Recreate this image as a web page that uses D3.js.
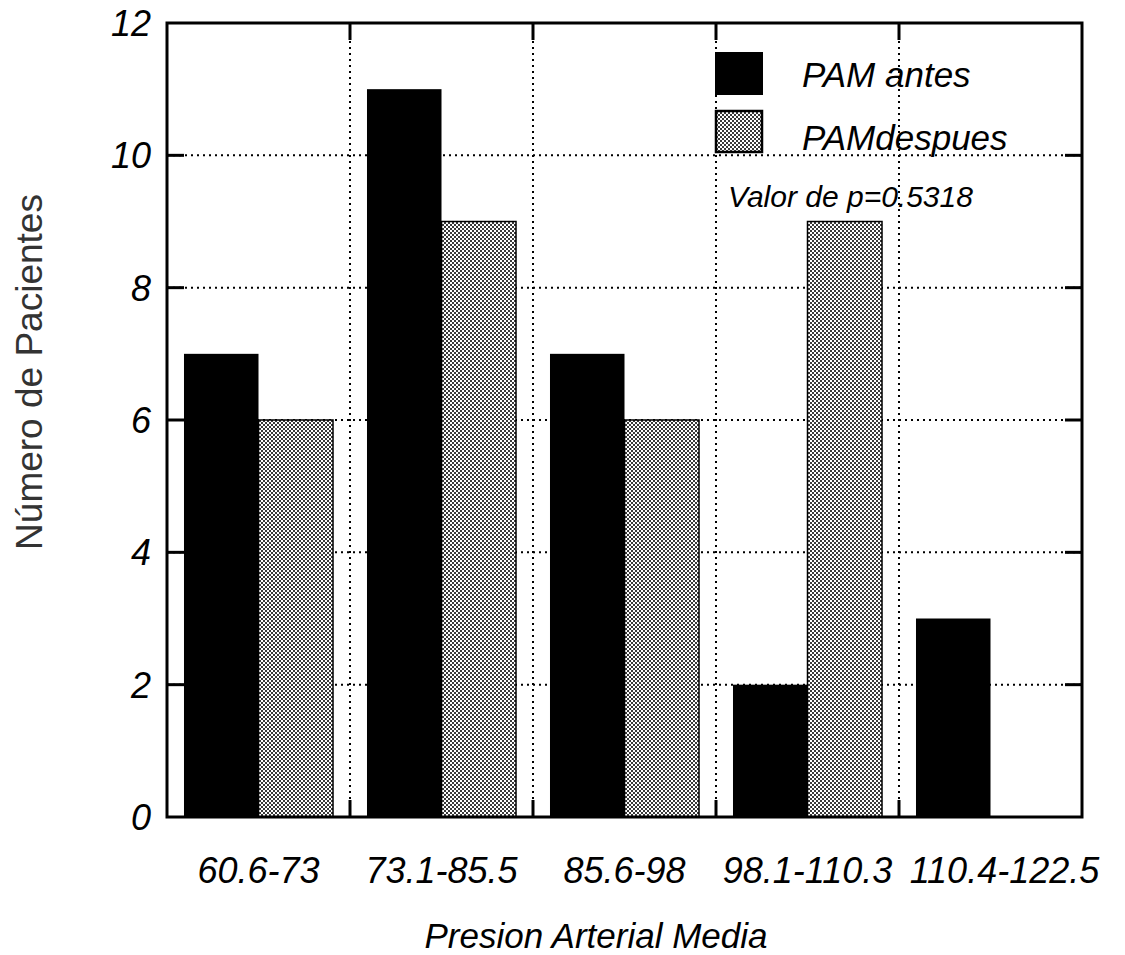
<!DOCTYPE html>
<html>
<head>
<meta charset="utf-8">
<script src="https://cdn.jsdelivr.net/npm/d3@7"></script>
<style>
  html, body { margin: 0; padding: 0; background: #fff; }
  svg { display: block; }
  text { font-family: "Liberation Sans", Arial, sans-serif; }
</style>
</head>
<body>
<svg id="chart" width="1125" height="955"></svg>
<script>
// Pressure ranges (mmHg) on the category axis
const categories = ["60.6-73", "73.1-85.5", "85.6-98", "98.1-110.3", "110.4-122.5"];
// Patients per range, before and after
const series = ["PAM antes", "PAMdespues"];
const pamAntes = [7, 11, 7, 2, 3];
const pamDespues = [6, 9, 6, 9, 0];
const yTicks = [0, 2, 4, 6, 8, 10, 12];
const pValueLabel = "Valor de p=0.5318";

const svg = d3.select("#chart");
const m = { left: 167, right: 1082, top: 23, bottom: 817 };

const x0 = d3.scaleBand().domain(categories).range([m.left, m.right]);
const x1 = d3.scaleBand().domain(series).range([0, x0.bandwidth()])
  .paddingInner(0).paddingOuter(0.228);
const y = d3.scaleLinear().domain([0, 12]).range([m.bottom, m.top]);

// checkered fill for the second series
const defs = svg.append("defs");
const pat = defs.append("pattern").attr("id", "checker")
  .attr("patternUnits", "userSpaceOnUse").attr("width", 4).attr("height", 4);
pat.append("rect").attr("width", 4).attr("height", 4).attr("fill", "#fff");
pat.append("rect").attr("x", 0).attr("y", 0).attr("width", 2).attr("height", 2).attr("fill", "#3a3a3a");
pat.append("rect").attr("x", 2).attr("y", 2).attr("width", 2).attr("height", 2).attr("fill", "#3a3a3a");

// dotted grid
const grid = svg.append("g");
yTicks.filter(t => t > 0 && t < 12).forEach(t => {
  grid.append("line").attr("x1", m.left).attr("x2", m.right)
    .attr("y1", y(t)).attr("y2", y(t))
    .attr("stroke", "#000").attr("stroke-width", 2).attr("stroke-dasharray", "2,4");
});
const boundaries = categories.slice(1).map(c => x0(c));
boundaries.forEach(bx => {
  grid.append("line").attr("x1", bx).attr("x2", bx)
    .attr("y1", m.top).attr("y2", m.bottom)
    .attr("stroke", "#000").attr("stroke-width", 2).attr("stroke-dasharray", "2,4");
});

// bars
const rows = categories.map((c, i) => ({ cat: c, values: [pamAntes[i], pamDespues[i]] }));
const groups = svg.append("g").selectAll("g").data(rows).join("g")
  .attr("transform", d => `translate(${x0(d.cat)},0)`);
groups.selectAll("rect")
  .data(d => d.values.map((v, j) => ({ key: series[j], v })).filter(d => d.v > 0))
  .join("rect")
  .attr("x", d => x1(d.key))
  .attr("width", x1.bandwidth())
  .attr("y", d => y(d.v))
  .attr("height", d => y(0) - y(d.v))
  .attr("fill", d => d.key === series[0] ? "#000" : "url(#checker)")
  .attr("stroke", "#000")
  .attr("stroke-width", d => d.key === series[0] ? 0 : 1.5);

// inward tick marks on all four sides
const ticks = svg.append("g").attr("stroke", "#000").attr("stroke-width", 3);
yTicks.filter(t => t > 0 && t < 12).forEach(t => {
  ticks.append("line").attr("x1", m.left).attr("x2", m.left + 17).attr("y1", y(t)).attr("y2", y(t));
  ticks.append("line").attr("x1", m.right - 17).attr("x2", m.right).attr("y1", y(t)).attr("y2", y(t));
});
boundaries.forEach(bx => {
  ticks.append("line").attr("x1", bx).attr("x2", bx).attr("y1", m.top).attr("y2", m.top + 17);
  ticks.append("line").attr("x1", bx).attr("x2", bx).attr("y1", m.bottom - 17).attr("y2", m.bottom);
});

// frame
svg.append("rect").attr("x", m.left).attr("y", m.top)
  .attr("width", m.right - m.left).attr("height", m.bottom - m.top)
  .attr("fill", "none").attr("stroke", "#000").attr("stroke-width", 3);

// y tick labels
svg.append("g").selectAll("text").data(yTicks).join("text")
  .attr("x", 151).attr("y", d => y(d))
  .attr("dy", "0.36em")
  .attr("text-anchor", "end")
  .attr("font-style", "italic").attr("font-size", 36)
  .text(d => d);

// x tick labels; the last one is nudged right so it clears its neighbour
svg.append("g").selectAll("text").data(categories).join("text")
  .attr("x", (d, i) => x0(d) + x0.bandwidth() / 2 + (i === categories.length - 1 ? 14 : 0))
  .attr("y", 883)
  .attr("text-anchor", "middle")
  .attr("font-style", "italic").attr("font-size", 36)
  .text(d => d);

// axis titles
svg.append("text").attr("x", 596).attr("y", 948)
  .attr("text-anchor", "middle").attr("font-style", "italic").attr("font-size", 35)
  .text("Presion Arterial Media");
svg.append("text")
  .attr("transform", "translate(42,372) rotate(-90)")
  .attr("text-anchor", "middle").attr("font-size", 37).attr("fill", "#333")
  .text("Número de Pacientes");

// legend
const legend = svg.append("g");
legend.append("rect").attr("x", 715).attr("y", 52).attr("width", 48).attr("height", 43).attr("fill", "#000");
legend.append("rect").attr("x", 716).attr("y", 111).attr("width", 46).attr("height", 41)
  .attr("fill", "url(#checker)").attr("stroke", "#000").attr("stroke-width", 2.5);
legend.append("text").attr("x", 802).attr("y", 87).attr("font-style", "italic").attr("font-size", 35).text(series[0]);
legend.append("text").attr("x", 802).attr("y", 150).attr("font-style", "italic").attr("font-size", 35).text(series[1]);
legend.append("text").attr("x", 728).attr("y", 207).attr("font-style", "italic").attr("font-size", 30).text(pValueLabel);
</script>
</body>
</html>
